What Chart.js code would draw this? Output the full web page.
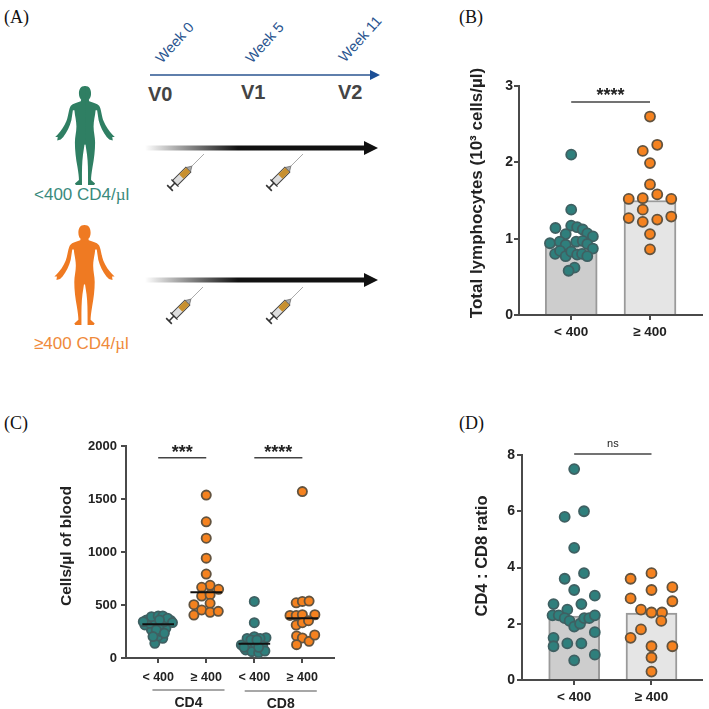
<!DOCTYPE html>
<html>
<head>
<meta charset="utf-8">
<title>Lymphocyte counts</title>
<script src="https://cdn.jsdelivr.net/npm/chart.js@4"></script>
<style>
  html, body { margin: 0; padding: 0; background: #fff; }
  #page { position: relative; width: 709px; height: 709px; overflow: hidden; }
  #page canvas { position: absolute; }
  #schema { position: absolute; left: 0; top: 0; }
  #schema text { font-family: "Liberation Sans", Arial, sans-serif; }
  #schema .panel { font-family: "Liberation Serif", serif; font-size: 18px; fill: #111; }
  #schema .week { font-size: 14.5px; fill: #2a5590; }
  #schema .visit { font-size: 20px; font-weight: bold; fill: #444; }
  #schema .group { font-size: 17px; }
</style>
</head>
<body>
<div id="page">
  <svg id="schema" width="709" height="709">
    <defs>
      <path id="half" d="M0 0 C4.5 0 6 3.5 6 7.5 C6 10.5 5 12.5 3.8 13.5 L4.2 15 C8 16.5 12 17 14 19.5 C16 22 16.5 30 18.5 35 C20.5 40 24 45 27 48 L29.5 50.5 L27 50.5 L27.5 54 L24 53 L21.5 50.5 C18 46 15 40 13.5 34 L12 24 L10.5 24 C10 30 8.5 34 8.5 40 C8.5 46 10 50 10 56 C10 64 9 72 7.5 80 C6.5 86 6 90 6 93 L10 96.5 L9 98 L3 98 L3 92 C3 84 3 76 2 68 L0.5 58 L-0.5 58 L-0.5 0 Z"/>
      <g id="body"><use href="#half"/><use href="#half" transform="scale(-1,1)"/></g>
      <linearGradient id="fade" gradientUnits="userSpaceOnUse" x1="145" y1="0" x2="238" y2="0">
        <stop offset="0" stop-color="#000" stop-opacity="0"/>
        <stop offset="1" stop-color="#111"/>
      </linearGradient>
      <g id="syringe">
        <line x1="0" y1="-4" x2="0" y2="4" stroke="#333" stroke-width="1.6"/>
        <line x1="0" y1="0" x2="7" y2="0" stroke="#333" stroke-width="1.6"/>
        <rect x="7" y="-3.5" width="19" height="7" fill="#ddd" stroke="#444" stroke-width="1"/>
        <rect x="16" y="-3" width="10" height="6" fill="#c8902f"/>
        <line x1="7" y1="-5" x2="7" y2="5" stroke="#333" stroke-width="1.2"/>
        <path d="M26 -3 L31 0 L26 3 Z" fill="#aaa" stroke="#555" stroke-width="0.6"/>
        <line x1="31" y1="0" x2="48" y2="0" stroke="#999" stroke-width="0.8"/>
      </g>
    </defs>

    <text class="panel" x="4" y="23">(A)</text>
    <text class="panel" x="459" y="23">(B)</text>
    <text class="panel" x="4" y="429">(C)</text>
    <text class="panel" x="459" y="429">(D)</text>

    <text class="week" transform="translate(162,64) rotate(-48)">Week 0</text>
    <text class="week" transform="translate(252,64) rotate(-48)">Week 5</text>
    <text class="week" transform="translate(345,63) rotate(-48)">Week 11</text>
    <line x1="150" y1="75" x2="372" y2="75" stroke="#2a5590" stroke-width="1.6"/>
    <path d="M370 70 L380 75 L370 80 Z" fill="#1c4f96"/>
    <text class="visit" x="148" y="101">V0</text>
    <text class="visit" x="241" y="99">V1</text>
    <text class="visit" x="338" y="99">V2</text>

    <use href="#body" transform="translate(85,86) scale(1.01)" fill="#2f7f63"/>
    <text class="group" x="34" y="200" fill="#3a8a7c">&lt;400 CD4/<tspan font-family="Liberation Serif">µ</tspan>l</text>
    <use href="#body" transform="translate(84.5,225) scale(1.02)" fill="#ef7a22"/>
    <text class="group" x="34" y="349" fill="#ef8a3a">≥400 CD4/<tspan font-family="Liberation Serif">µ</tspan>l</text>

    <rect x="145" y="145.5" width="222" height="5" fill="url(#fade)"/>
    <path d="M364 141 L378 148 L364 155 Z" fill="#111"/>
    <rect x="145" y="277.5" width="222" height="5" fill="url(#fade)"/>
    <path d="M364 273 L378 280 L364 287 Z" fill="#111"/>

    <use href="#syringe" transform="translate(170,188) rotate(-45)"/>
    <use href="#syringe" transform="translate(269,188) rotate(-45)"/>
    <use href="#syringe" transform="translate(169,321) rotate(-45)"/>
    <use href="#syringe" transform="translate(269,321) rotate(-45)"/>
  </svg>
  <canvas id="chartB" width="259" height="290" style="left:450px;top:60px"></canvas>
  <canvas id="chartC" width="290" height="279" style="left:50px;top:430px"></canvas>
  <canvas id="chartD" width="259" height="279" style="left:450px;top:430px"></canvas>
</div>

<script>
// group labels
const lowHigh = ["< 400", "≥ 400"];
const cellLabels = ["< 400", "≥ 400", "< 400", "≥ 400"];
const cellGroups = ["CD4", "CD8"];

// (B) total lymphocytes, 10^3 cells/ul
const lymphMeans = [0.93, 1.5];
const lymphLow = [2.10, 1.38, 1.14, 1.17, 1.15, 1.12, 1.07, 1.03, 1.06, 0.94, 0.96, 0.92, 0.96, 0.97, 0.93, 0.87, 0.80, 0.84, 0.77, 0.83, 0.79, 0.80, 0.77, 0.62, 0.58];
const lymphLowJitter = [0, 0, -0.2, 0, 0.075, 0.146, 0.204, 0.275, -0.07, -0.27, -0.146, -0.07, 0.0625, 0.146, 0.204, 0.275, -0.204, -0.142, -0.07, 0, 0.075, 0.137, 0.204, 0.042, -0.033];
const lymphHigh = [2.60, 2.23, 2.15, 1.99, 1.71, 1.58, 1.52, 1.53, 1.52, 1.38, 1.27, 1.22, 1.25, 1.29, 1.06, 0.86];
const lymphHighJitter = [0, 0.092, -0.092, 0, 0, 0.092, -0.27, -0.092, 0.27, -0.092, -0.27, -0.092, 0.092, 0.27, 0, 0];

// (C) cells/ul of blood
const cd4Low = [139, 186, 208, 265, 249, 280, 296, 312, 328, 312, 353, 343, 359, 359, 390, 397, 397, 375, 265, 233, 202, 343, 334, 359];
const cd4LowJitter = [-0.07, 0.095, 0, -0.14, 0.06, 0.16, -0.05, -0.277, -0.176, 0.027, 0.264, 0.128, -0.07, -0.243, -0.14, 0, 0.095, 0.196, -0.04, 0.128, -0.108, -0.31, 0.297, 0.027];
const cd4High = [1537, 1285, 1130, 942, 792, 686, 667, 648, 585, 597, 516, 503, 405, 453, 431, 440];
const cd4HighJitter = [0, 0, 0, 0, 0, 0.08, -0.095, 0.257, -0.095, 0.08, 0.08, -0.257, -0.257, -0.095, 0.08, 0.25];
const cd8Low = [534, 333, 191, 201, 185, 185, 123, 113, 132, 113, 76, 60, 50, 66, 101, 101, 170, 170];
const cd8LowJitter = [0, 0, 0.243, 0, -0.15, 0.12, -0.27, -0.115, 0.02, 0.176, -0.18, -0.05, 0.09, 0.22, -0.216, 0.09, -0.07, 0.054];
const cd8High = [1570, 521, 534, 537, 402, 402, 408, 408, 311, 333, 352, 208, 189, 157, 217, 126];
const cd8HighJitter = [0, -0.128, 0, 0.14, -0.257, -0.128, 0, 0.26, -0.128, 0, 0.128, -0.12, 0, 0.14, 0.257, -0.12];
const cellMedians = [318, 620, 135, 375];

// (D) CD4 : CD8 ratio
const ratioMeans = [2.27, 2.38];
const ratioLow = [7.5, 5.8, 6.0, 4.7, 3.6, 3.8, 3.2, 3.0, 2.7, 2.7, 2.5, 2.3, 2.3, 2.2, 2.1, 1.9, 2.0, 2.2, 2.2, 2.3, 1.7, 1.5, 1.2, 1.3, 1.3, 0.9, 0.7];
const ratioLowJitter = [0, -0.123, 0.127, 0, -0.123, 0.127, 0, 0.267, -0.267, 0.093, -0.089, -0.28, -0.2, -0.123, -0.06, 0, 0.076, 0.13, 0.195, 0.267, 0.267, -0.267, -0.267, -0.089, 0.093, 0.267, 0];
const ratioHigh = [3.8, 3.6, 3.2, 3.3, 2.9, 2.8, 2.5, 2.4, 2.4, 2.1, 1.8, 1.5, 1.2, 1.2, 0.8, 0.3];
const ratioHighJitter = [0, -0.27, 0, 0.27, -0.27, 0.27, -0.136, 0, 0.136, 0.127, -0.136, -0.27, 0, 0.27, 0, 0];

const TEAL = "#2f7f7c", ORANGE = "#f5821f", AXIS = "#4a4a4a";
const FONT = '"Liberation Sans", Arial, sans-serif';

function swarm(values, jitter, center, fill, radius) {
  return {
    type: "scatter",
    order: 2,
    clip: false,
    data: values.map((v, i) => ({ x: center + jitter[i], y: v })),
    backgroundColor: fill,
    borderColor: fill === TEAL ? "#3f6062" : "#62533f",
    borderWidth: 1.8,
    pointRadius: radius
  };
}

function hLine(x1, x2, y, color, width) {
  return {
    type: "line",
    order: 1,
    clip: false,
    data: [{ x: x1, y: y }, { x: x2, y: y }],
    borderColor: color,
    borderWidth: width,
    pointRadius: 0
  };
}

function bars(means, thickness) {
  return {
    type: "bar",
    order: 3,
    data: means.map((v, i) => ({ x: i + 1, y: v })),
    backgroundColor: ["#cdcdcd", "#e5e5e5"],
    borderColor: "#9a9a9a",
    borderWidth: 2,
    barThickness: thickness
  };
}

// writes the y title, the significance marks and the group captions under the axis
const notes = {
  id: "notes",
  afterDraw(chart, args, opts) {
    const ctx = chart.ctx, x = chart.scales.x, y = chart.scales.y;
    ctx.save();
    ctx.textAlign = "center";
    ctx.textBaseline = "middle";
    ctx.fillStyle = "#222";
    (opts.marks || []).forEach(m => {
      ctx.font = m.text === "ns" ? "11px " + FONT : "bold 18px " + FONT;
      ctx.fillText(m.text, x.getPixelForValue(m.x), y.getPixelForValue(m.y) - m.lift);
    });
    (opts.groups || []).forEach(g => {
      ctx.strokeStyle = "#8a8a8a";
      ctx.lineWidth = 1.3;
      ctx.beginPath();
      ctx.moveTo(x.getPixelForValue(g.from), g.lineY);
      ctx.lineTo(x.getPixelForValue(g.to), g.lineY);
      ctx.stroke();
      ctx.font = "bold 14px " + FONT;
      ctx.fillText(g.text, x.getPixelForValue((g.from + g.to) / 2), g.lineY + 13);
    });
    if (opts.title) {
      ctx.translate(opts.title.left, opts.title.mid);
      ctx.rotate(-Math.PI / 2);
      ctx.font = "bold " + opts.title.size + "px " + FONT;
      ctx.fillText(opts.title.text, 0, 0);
    }
    ctx.restore();
  }
};

function makeChart(id, datasets, o) {
  new Chart(document.getElementById(id), {
    data: { datasets: datasets },
    plugins: [notes],
    options: {
      responsive: false,
      animation: false,
      layout: { padding: { top: o.top, right: o.right, left: 0, bottom: 0 } },
      plugins: {
        legend: { display: false },
        tooltip: { enabled: false },
        notes: { marks: o.marks, groups: o.groups || [], title: o.title }
      },
      scales: {
        x: {
          type: "linear",
          offset: false,
          min: o.xMin,
          max: o.xMax,
          afterBuildTicks: s => { s.ticks = o.labels.map((l, i) => ({ value: i + 1 })); },
          afterFit: s => { s.height = o.bottom; },
          grid: { offset: false, drawOnChartArea: false, color: AXIS, tickLength: 5, lineWidth: 2 },
          border: { color: AXIS, width: 2 },
          ticks: {
            autoSkip: false,
            maxRotation: 0,
            padding: o.xTickPad,
            color: "#222",
            font: { family: FONT, size: o.xTickSize, weight: "bold" },
            callback: v => o.labels[v - 1]
          }
        },
        y: {
          min: 0,
          max: o.yMax,
          afterFit: s => { s.width = o.left; },
          grid: { drawOnChartArea: false, color: AXIS, tickLength: 5, lineWidth: 2 },
          border: { color: AXIS, width: 2 },
          ticks: {
            stepSize: o.yStep,
            padding: o.yTickPad,
            color: "#222",
            font: { family: FONT, size: o.yTickSize, weight: "bold" },
            callback: v => String(v)
          }
        }
      }
    }
  });
}

makeChart("chartB", [
  bars(lymphMeans, 52),
  swarm(lymphLow, lymphLowJitter, 1, TEAL, 5),
  swarm(lymphHigh, lymphHighJitter, 2, ORANGE, 5),
  hLine(1, 2, 2.79, "#444", 1.5)
], {
  top: 26, right: 4, left: 69, bottom: 35,
  xMin: 0.3375, xMax: 2.6625, labels: lowHigh, xTickPad: 4, xTickSize: 13.5,
  yMax: 3, yStep: 1, yTickSize: 14, yTickPad: 1,
  title: { text: "Total lymphocytes (10³ cells/µl)", left: 27, mid: 133, size: 17 },
  marks: [{ x: 1.5, y: 2.79, lift: 6, text: "****" }]
});

makeChart("chartC", [
  swarm(cd4Low, cd4LowJitter, 1, TEAL, 4.6),
  swarm(cd4High, cd4HighJitter, 2, ORANGE, 4.6),
  swarm(cd8Low, cd8LowJitter, 3, TEAL, 4.6),
  swarm(cd8High, cd8HighJitter, 4, ORANGE, 4.6),
  ...cellMedians.map((m, i) => hLine(i + 0.67, i + 1.33, m, "#111", 2)),
  hLine(1, 2, 1890, "#444", 1.5),
  hLine(3, 4, 1890, "#444", 1.5)
], {
  top: 16, right: 1, left: 76, bottom: 51,
  xMin: 0.33, xMax: 4.65, labels: cellLabels, xTickPad: 7, xTickSize: 12.5,
  yMax: 2000, yStep: 500, yTickSize: 13, yTickPad: 4,
  title: { text: "Cells/µl of blood", left: 17, mid: 116, size: 15.5 },
  marks: [
    { x: 1.5, y: 1890, lift: 5, text: "***" },
    { x: 3.5, y: 1890, lift: 5, text: "****" }
  ],
  groups: [
    { from: 0.88, to: 2.38, lineY: 260, text: cellGroups[0] },
    { from: 2.8, to: 4.3, lineY: 261, text: cellGroups[1] }
  ]
});

makeChart("chartD", [
  bars(ratioMeans, 51),
  swarm(ratioLow, ratioLowJitter, 1, TEAL, 5),
  swarm(ratioHigh, ratioHighJitter, 2, ORANGE, 5),
  hLine(1, 2, 8.04, "#444", 1.5)
], {
  top: 25, right: 4, left: 72, bottom: 29,
  xMin: 0.325, xMax: 2.656, labels: lowHigh, xTickPad: 4, xTickSize: 13.5,
  yMax: 8, yStep: 2, yTickSize: 14, yTickPad: 2,
  title: { text: "CD4 : CD8 ratio", left: 32, mid: 126, size: 16.5 },
  marks: [{ x: 1.5, y: 8.04, lift: 10, text: "ns" }]
});
</script>
</body>
</html>
